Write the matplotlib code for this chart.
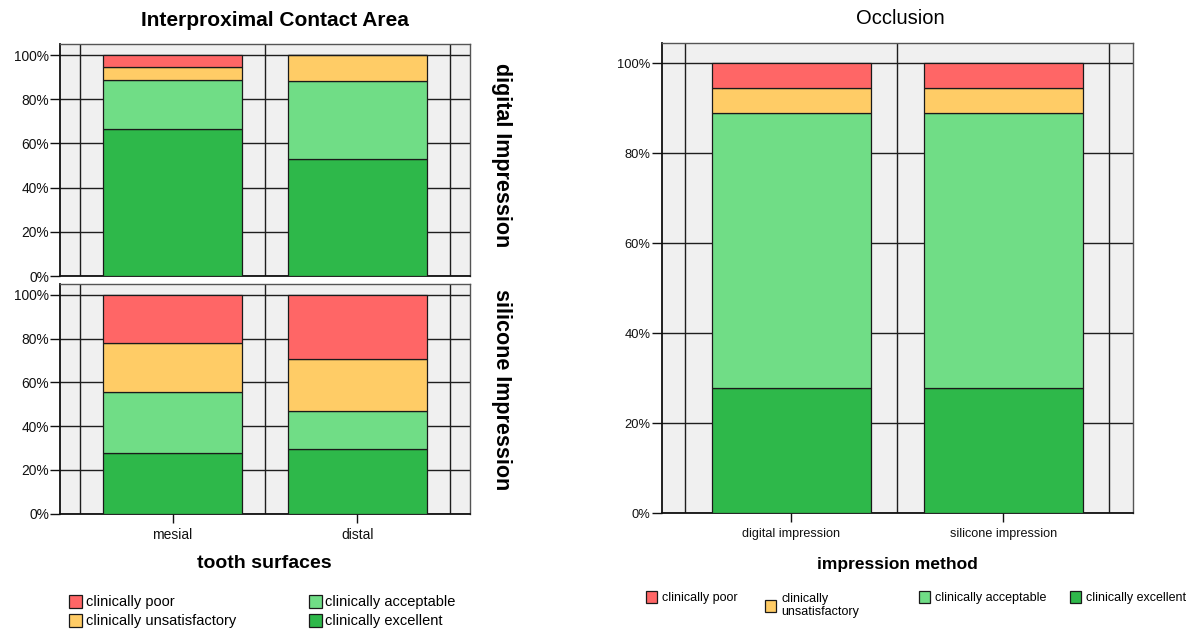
import matplotlib
matplotlib.use("Agg")
import matplotlib.pyplot as plt
from matplotlib.ticker import FixedLocator, FuncFormatter

plt.rcParams['font.family'] = ['Liberation Sans', 'DejaVu Sans']

# Rating categories (legend order) and their fill colours
ratings = ["clinically poor", "clinically unsatisfactory",
           "clinically acceptable", "clinically excellent"]
rating_colors = ["#FF6666", "#FFCC66", "#70DD86", "#2EB84A"]

# Interproximal contact area, percentages per tooth surface
surfaces = ["mesial", "distal"]
digital_excellent = [66.7, 52.9]
digital_acceptable = [22.2, 35.3]
digital_unsatisfactory = [5.6, 11.8]
digital_poor = [5.5, 0.0]

silicone_excellent = [27.8, 29.4]
silicone_acceptable = [27.8, 17.6]
silicone_unsatisfactory = [22.2, 23.5]
silicone_poor = [22.2, 29.5]

# Occlusion, percentages per impression method
methods = ["digital impression", "silicone impression"]
occlusion_excellent = [27.8, 27.8]
occlusion_acceptable = [61.1, 61.1]
occlusion_unsatisfactory = [5.6, 5.6]
occlusion_poor = [5.5, 5.5]

y_ticks = [0, 20, 40, 60, 80, 100]

W, H = 1194, 630
fig = plt.figure(figsize=(W / 100, H / 100), dpi=100)
fig.patch.set_facecolor("white")


def rect(x0, y0, x1, y1):
    return [x0 / W, 1 - y1 / H, (x1 - x0) / W, (y1 - y0) / H]


def stacked_panel(ax, cats, excellent, acceptable, unsat, poor, ytop,
                  ylab_size, xlab_size, show_x):
    ax.set_facecolor("#F0F0F0")
    x = list(range(len(cats)))
    bottom = [0.0] * len(cats)
    handles = {}
    # stack from the bottom: excellent, acceptable, unsatisfactory, poor
    for vals, idx in ((excellent, 3), (acceptable, 2), (unsat, 1), (poor, 0)):
        bars = ax.bar(x, vals, width=0.75, bottom=bottom,
                      color=rating_colors[idx], edgecolor="#1a1a1a",
                      linewidth=0.9, zorder=3)
        handles[idx] = bars
        bottom = [b + v for b, v in zip(bottom, vals)]
    ax.set_xlim(-0.61, 1.61)
    ax.set_ylim(0, ytop)
    ax.yaxis.set_major_locator(FixedLocator(y_ticks))
    ax.yaxis.set_major_formatter(FuncFormatter(lambda v, p: f"{int(v)}%"))
    ax.set_xticks(x)
    ax.set_xticks([-0.5, 0.5, 1.5], minor=True)
    ax.grid(which="major", axis="y", color="#1e1e1e", linewidth=1.0, zorder=1)
    ax.grid(which="minor", axis="x", color="#1e1e1e", linewidth=1.0, zorder=1)
    ax.grid(which="major", axis="x", visible=False)
    ax.set_axisbelow(True)
    ax.tick_params(axis="y", direction="out", length=7, width=1.0, pad=1,
                   labelsize=ylab_size, colors="#111111")
    ax.tick_params(axis="x", which="minor", length=0)
    if show_x:
        ax.set_xticklabels(cats)
        ax.tick_params(axis="x", which="major", direction="out", length=6.5,
                       width=1.0, pad=4, labelsize=xlab_size, colors="#111111")
    else:
        ax.set_xticklabels([])
        ax.tick_params(axis="x", which="major", length=0)
    for side in ("left", "bottom"):
        ax.spines[side].set_color("#111111")
        ax.spines[side].set_linewidth(1.3)
    for side in ("top", "right"):
        ax.spines[side].set_color("#555555")
        ax.spines[side].set_linewidth(1.0)
    return handles


# Left chart: two stacked panels
ax_dig = fig.add_axes(rect(60, 44, 470, 276))
h = stacked_panel(ax_dig, surfaces, digital_excellent, digital_acceptable,
                  digital_unsatisfactory, digital_poor, 105, 9.9, 10, False)
ax_sil = fig.add_axes(rect(60, 284, 470, 513.5))
stacked_panel(ax_sil, surfaces, silicone_excellent, silicone_acceptable,
              silicone_unsatisfactory, silicone_poor, 105, 9.9, 10, True)

fig.text(274.7 / W, 1 - 21 / H, "Interproximal Contact Area", ha="center",
         va="center", fontsize=15, fontweight="bold")
fig.text(501.7 / W, 1 - 155 / H, "digital Impression", rotation=-90,
         ha="center", va="center", fontsize=15.5, fontweight="bold")
fig.text(501.7 / W, 1 - 390 / H, "silicone Impression", rotation=-90,
         ha="center", va="center", fontsize=15.5, fontweight="bold")
fig.text(264 / W, 1 - 564 / H, "tooth surfaces", ha="center", va="center",
         fontsize=14, fontweight="bold")

left_handles = [h[0], h[1], h[2], h[3]]
fig.legend(left_handles, ratings, loc="upper left",
           bbox_to_anchor=(69.3 / W, 1 - 594.5 / H), ncol=2, frameon=False,
           fontsize=10.5, borderpad=0, borderaxespad=0, handlelength=0.9,
           handleheight=1.0, handletextpad=0.23, labelspacing=0.32,
           columnspacing=5.0)

# Right chart: occlusion
ax_occ = fig.add_axes(rect(661.7, 43.3, 1132.7, 513.3))
h2 = stacked_panel(ax_occ, methods, occlusion_excellent, occlusion_acceptable,
                   occlusion_unsatisfactory, occlusion_poor, 104.44, 9.3, 9.1,
                   True)
fig.text(900 / W, 1 - 19 / H, "Occlusion", ha="center", va="center",
         fontsize=14.5)
fig.text(897 / W, 1 - 564 / H, "impression method", ha="center",
         va="center", fontsize=12.5, fontweight="bold")

right_labels = ["clinically poor", "clinically\nunsatisfactory",
                "clinically acceptable", "clinically excellent"]
right_x = [645.6, 764.7, 918.5, 1069.5]
right_y = [597.5, 605.5, 597.5, 597.5]
for i in range(4):
    fig.legend([h2[i]], [right_labels[i]], loc="center left",
               bbox_to_anchor=(right_x[i] / W, 1 - right_y[i] / H),
               frameon=False, fontsize=9, borderpad=0, borderaxespad=0,
               handlelength=0.93, handleheight=1.05, handletextpad=0.4,
               labelspacing=0.0)

fig.savefig("out.png", dpi=100, facecolor="white")
